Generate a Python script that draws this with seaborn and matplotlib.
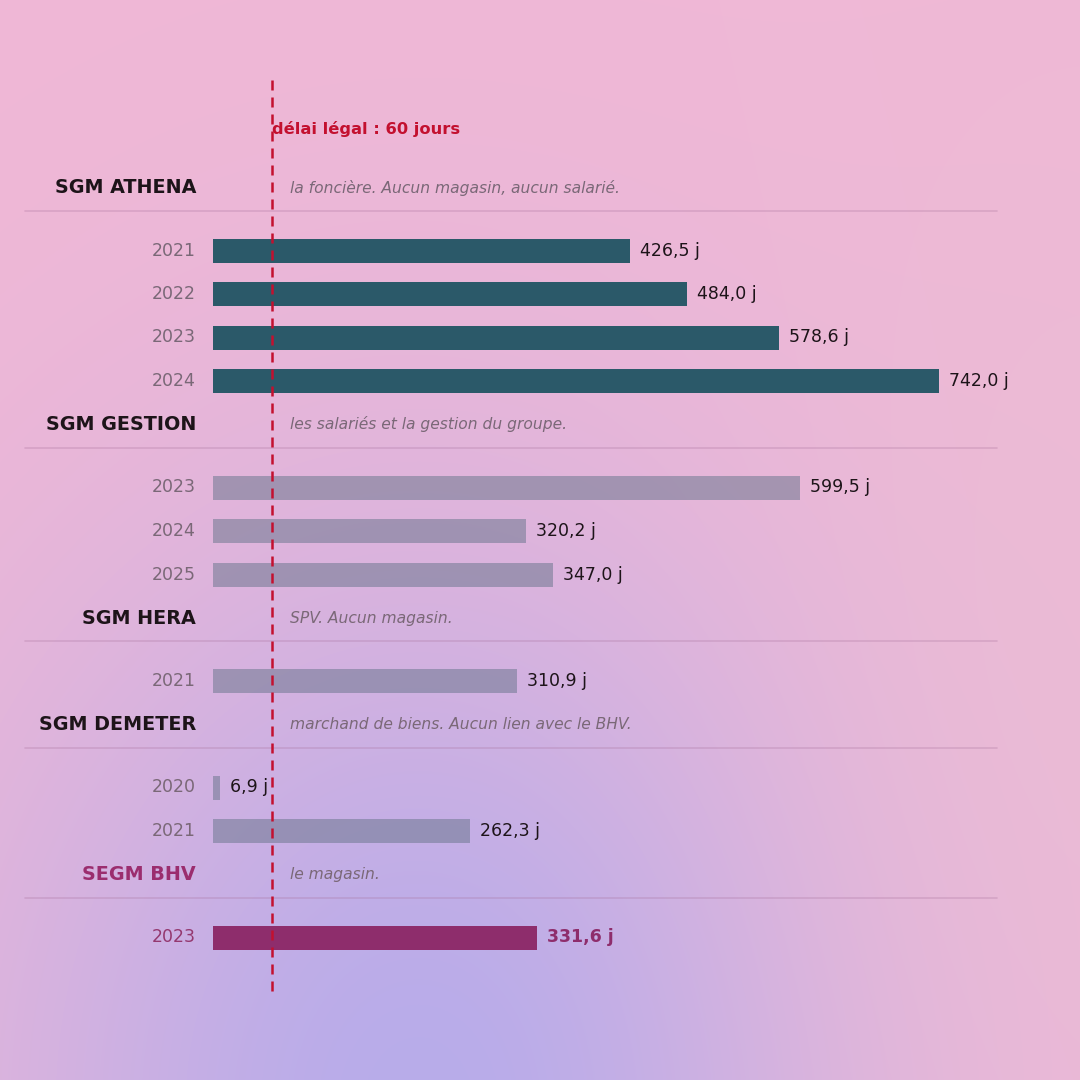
"""
Délais de paiement fournisseurs des sociétés du groupe SGM / BHV.
"""

import numpy as np
import pandas as pd
import seaborn as sns
import matplotlib.pyplot as plt
from matplotlib.colors import same_color


# ---- data ----
GROUPS = ['SGM ATHENA', 'SGM GESTION', 'SGM HERA', 'SGM DEMETER', 'SEGM BHV']
DESCRIPTIONS = ['la foncière. Aucun magasin, aucun salarié.',
                'les salariés et la gestion du groupe.',
                'SPV. Aucun magasin.',
                'marchand de biens. Aucun lien avec le BHV.',
                'le magasin.']
YEARS = [['2021', '2022', '2023', '2024'],
         ['2023', '2024', '2025'],
         ['2021'],
         ['2020', '2021'],
         ['2023']]
DAYS = [[426.5, 484.0, 578.6, 742.0],
        [599.5, 320.2, 347.0],
        [310.9],
        [6.9, 262.3],
        [331.6]]
STYLES = ['athena', 'gray', 'gray', 'gray', 'bhv']
LEGAL_LIMIT = 60
LEGAL_LABEL = 'délai légal : 60 jours'

# ---- look ----
PALETTE = {'athena': '#2b5969', 'gray': '#6e7890', 'bhv': '#8e2d6c'}
GRAY_ALPHA = 0.55
RED = '#c3102f'
DARK = '#1d1419'
MUTED = '#7a6877'
MAGENTA = '#9b2d6e'

W = H = 1080
X0 = 213                 # pixel where 0 day sits
PPD = 726 / 742          # pixels per day
ROW = 43.5
HEAD_GAP = 63
TOP = 187.5
BAR_PX = 24


def px(x):
    return (x - X0) / PPD


def french(v):
    return f'{v:.1f}'.replace('.', ',') + ' j'


# ---- layout of rows ----
rows = []
heads = []
y = TOP
for g, desc, years, days, style in zip(GROUPS, DESCRIPTIONS, YEARS, DAYS, STYLES):
    heads.append((g, desc, y, style))
    y += HEAD_GAP
    for yr, d in zip(years, days):
        rows.append(dict(group=g, year=yr, days=d, style=style, ypos=y))
        y += ROW
df = pd.DataFrame(rows)

sns.set_theme(style='white')
plt.rcParams['font.family'] = ['DejaVu Sans']

fig = plt.figure(figsize=(10.8, 10.8), dpi=100)

# background gradient
bg = fig.add_axes([0, 0, 1, 1])
gx, gy = np.meshgrid(np.arange(W), np.arange(H))
w = np.exp(-((gx - 420) ** 2 / (2 * 310 ** 2) + (gy - 1110) ** 2 / (2 * 400 ** 2)))
w2 = np.exp(-((gx - 1080) ** 2 / (2 * 200 ** 2) + (gy - 650) ** 2 / (2 * 400 ** 2)))
pink = np.array([240, 184, 214]) / 255
lav = np.array([184, 172, 234]) / 255
edge = np.array([233, 190, 212]) / 255
img = pink[None, None, :] * (1 - w[..., None]) + lav[None, None, :] * w[..., None]
img = img * (1 - 0.5 * w2[..., None]) + edge[None, None, :] * 0.5 * w2[..., None]
bg.imshow(img, aspect='auto', extent=(0, W, H, 0))
bg.axis('off')

ax = fig.add_axes([0, 0, 1, 1])
ax.patch.set_alpha(0)

sns.barplot(data=df, x='days', y='ypos', hue='style', palette=PALETTE,
            orient='h', native_scale=True, width=BAR_PX / ROW, dodge=False,
            saturation=1, linewidth=0, legend=False, ax=ax)

for patch in ax.patches:
    if same_color(patch.get_facecolor()[:3], PALETTE['gray']):
        patch.set_alpha(GRAY_ALPHA)

# labels on rows
for _, r in df.iterrows():
    bhv = r['style'] == 'bhv'
    ax.text(px(196), r['ypos'], r['year'], ha='right', va='center',
            fontsize=12.5, color='#94386f' if bhv else MUTED)
    ax.text(r['days'] + 10 / PPD, r['ypos'], french(r['days']), ha='left',
            va='center', fontsize=12.5, fontweight='bold' if bhv else 'normal',
            color='#8e2d6c' if bhv else DARK)

for g, desc, yh, style in heads:
    ax.text(px(196), yh, g, ha='right', va='center', fontsize=13.8,
            fontweight='bold', color=MAGENTA if style == 'bhv' else DARK)
    ax.text(px(290), yh, desc, ha='left', va='center', fontsize=11.2,
            style='italic', color=MUTED)
    ax.plot([px(25), px(997)], [yh + 23, yh + 23], color='#a8729c',
            alpha=0.3, lw=1.2, zorder=1)

ax.plot([LEGAL_LIMIT, LEGAL_LIMIT], [80, 997], color=RED, lw=1.8,
        dashes=(4, 2.8), zorder=5)
ax.text(LEGAL_LIMIT, 129, LEGAL_LABEL, ha='left', va='center', fontsize=11.7,
        fontweight='bold', color=RED)

ax.set_xlim(px(0), px(W))
ax.set_ylim(H, 0)
ax.axis('off')

fig.savefig('out.png', dpi=100)
